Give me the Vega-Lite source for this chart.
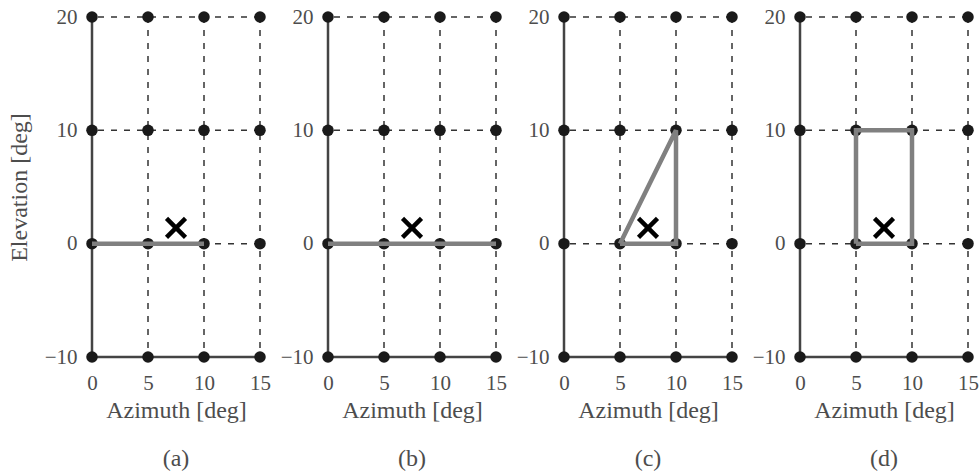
{
  "$schema": "https://vega.github.io/schema/vega-lite/v6.json",
  "padding": {"left": 7, "top": 6, "right": 5, "bottom": 5},
  "background": "white",
  "spacing": 68,
  "bounds": "flush",
  "datasets": {
    "vdash": [{"x": 5}, {"x": 10}, {"x": 15}],
    "hdash": [{"y": 0}, {"y": 10}, {"y": 20}],
    "vsolid": [{"x": 0}],
    "hsolid": [{"y": -10}],
    "grid": [
      {"x": 0, "y": -10}, {"x": 5, "y": -10}, {"x": 10, "y": -10}, {"x": 15, "y": -10},
      {"x": 0, "y": 0}, {"x": 5, "y": 0}, {"x": 10, "y": 0}, {"x": 15, "y": 0},
      {"x": 0, "y": 10}, {"x": 5, "y": 10}, {"x": 10, "y": 10}, {"x": 15, "y": 10},
      {"x": 0, "y": 20}, {"x": 5, "y": 20}, {"x": 10, "y": 20}, {"x": 15, "y": 20}
    ],
    "shapes": [
      {"panel": "a", "i": 0, "x": 0, "y": 0},
      {"panel": "a", "i": 1, "x": 10, "y": 0},
      {"panel": "b", "i": 0, "x": 0, "y": 0},
      {"panel": "b", "i": 1, "x": 15, "y": 0},
      {"panel": "c", "i": 0, "x": 5, "y": 0},
      {"panel": "c", "i": 1, "x": 10, "y": 0},
      {"panel": "c", "i": 2, "x": 10, "y": 10},
      {"panel": "c", "i": 3, "x": 5, "y": 0},
      {"panel": "d", "i": 0, "x": 5, "y": 0},
      {"panel": "d", "i": 1, "x": 10, "y": 0},
      {"panel": "d", "i": 2, "x": 10, "y": 10},
      {"panel": "d", "i": 3, "x": 5, "y": 10},
      {"panel": "d", "i": 4, "x": 5, "y": 0}
    ],
    "target": [{"x": 7.5, "y": 1.4}]
  },
  "hconcat": [
    {
      "width": 168, "height": 340,
      "title": {"text": "(a)", "orient": "bottom", "frame": "group", "offset": 25},
      "layer": [
        {"data": {"name": "vdash"}, "mark": {"type": "rule", "color": "#333333", "strokeWidth": 1.5, "strokeDash": [6, 7]},
         "encoding": {"x": {"field": "x", "type": "quantitative", "scale": {"domain": [0, 15], "nice": false, "zero": false}, "axis": {"values": [0, 5, 10, 15], "title": "Azimuth [deg]"}}}},
        {"data": {"name": "hdash"}, "mark": {"type": "rule", "color": "#333333", "strokeWidth": 1.5, "strokeDash": [6, 7]},
         "encoding": {"y": {"field": "y", "type": "quantitative", "scale": {"domain": [-10, 20], "nice": false, "zero": false}, "axis": {"values": [-10, 0, 10, 20], "title": "Elevation [deg]"}}}},
        {"data": {"name": "vsolid"}, "mark": {"type": "rule", "color": "#444444", "strokeWidth": 2.5},
         "encoding": {"x": {"field": "x", "type": "quantitative", "axis": {"values": [0, 5, 10, 15], "title": "Azimuth [deg]"}}}},
        {"data": {"name": "hsolid"}, "mark": {"type": "rule", "color": "#444444", "strokeWidth": 2.5},
         "encoding": {"y": {"field": "y", "type": "quantitative", "axis": {"values": [-10, 0, 10, 20], "title": "Elevation [deg]"}}}},
        {"data": {"name": "grid"}, "mark": {"type": "circle", "size": 133, "color": "#1a1a1a", "opacity": 1},
         "encoding": {"x": {"field": "x", "type": "quantitative", "axis": {"values": [0, 5, 10, 15], "title": "Azimuth [deg]"}}, "y": {"field": "y", "type": "quantitative", "axis": {"values": [-10, 0, 10, 20], "title": "Elevation [deg]"}}}},
        {"data": {"name": "shapes"}, "transform": [{"filter": "datum.panel == 'a'"}], "mark": {"type": "line", "color": "#808080", "strokeWidth": 4.5, "strokeJoin": "miter"},
         "encoding": {"x": {"field": "x", "type": "quantitative", "axis": {"values": [0, 5, 10, 15], "title": "Azimuth [deg]"}}, "y": {"field": "y", "type": "quantitative", "axis": {"values": [-10, 0, 10, 20], "title": "Elevation [deg]"}}, "order": {"field": "i", "type": "quantitative"}}},
        {"data": {"name": "target"}, "mark": {"type": "point", "shape": "M-1,-1L1,1M-1,1L1,-1", "size": 361, "filled": false, "stroke": "#000000", "strokeWidth": 4.5, "opacity": 1},
         "encoding": {"x": {"field": "x", "type": "quantitative", "axis": {"values": [0, 5, 10, 15], "title": "Azimuth [deg]"}}, "y": {"field": "y", "type": "quantitative", "axis": {"values": [-10, 0, 10, 20], "title": "Elevation [deg]"}}}}
      ]
    },
    {
      "width": 168, "height": 340,
      "title": {"text": "(b)", "orient": "bottom", "frame": "group", "offset": 25},
      "layer": [
        {"data": {"name": "vdash"}, "mark": {"type": "rule", "color": "#333333", "strokeWidth": 1.5, "strokeDash": [6, 7]},
         "encoding": {"x": {"field": "x", "type": "quantitative", "scale": {"domain": [0, 15], "nice": false, "zero": false}, "axis": {"values": [0, 5, 10, 15], "title": "Azimuth [deg]"}}}},
        {"data": {"name": "hdash"}, "mark": {"type": "rule", "color": "#333333", "strokeWidth": 1.5, "strokeDash": [6, 7]},
         "encoding": {"y": {"field": "y", "type": "quantitative", "scale": {"domain": [-10, 20], "nice": false, "zero": false}, "axis": {"values": [-10, 0, 10, 20], "title": null}}}},
        {"data": {"name": "vsolid"}, "mark": {"type": "rule", "color": "#444444", "strokeWidth": 2.5},
         "encoding": {"x": {"field": "x", "type": "quantitative", "axis": {"values": [0, 5, 10, 15], "title": "Azimuth [deg]"}}}},
        {"data": {"name": "hsolid"}, "mark": {"type": "rule", "color": "#444444", "strokeWidth": 2.5},
         "encoding": {"y": {"field": "y", "type": "quantitative", "axis": {"values": [-10, 0, 10, 20], "title": null}}}},
        {"data": {"name": "grid"}, "mark": {"type": "circle", "size": 133, "color": "#1a1a1a", "opacity": 1},
         "encoding": {"x": {"field": "x", "type": "quantitative", "axis": {"values": [0, 5, 10, 15], "title": "Azimuth [deg]"}}, "y": {"field": "y", "type": "quantitative", "axis": {"values": [-10, 0, 10, 20], "title": null}}}},
        {"data": {"name": "shapes"}, "transform": [{"filter": "datum.panel == 'b'"}], "mark": {"type": "line", "color": "#808080", "strokeWidth": 4.5, "strokeJoin": "miter"},
         "encoding": {"x": {"field": "x", "type": "quantitative", "axis": {"values": [0, 5, 10, 15], "title": "Azimuth [deg]"}}, "y": {"field": "y", "type": "quantitative", "axis": {"values": [-10, 0, 10, 20], "title": null}}, "order": {"field": "i", "type": "quantitative"}}},
        {"data": {"name": "target"}, "mark": {"type": "point", "shape": "M-1,-1L1,1M-1,1L1,-1", "size": 361, "filled": false, "stroke": "#000000", "strokeWidth": 4.5, "opacity": 1},
         "encoding": {"x": {"field": "x", "type": "quantitative", "axis": {"values": [0, 5, 10, 15], "title": "Azimuth [deg]"}}, "y": {"field": "y", "type": "quantitative", "axis": {"values": [-10, 0, 10, 20], "title": null}}}}
      ]
    },
    {
      "width": 168, "height": 340,
      "title": {"text": "(c)", "orient": "bottom", "frame": "group", "offset": 25},
      "layer": [
        {"data": {"name": "vdash"}, "mark": {"type": "rule", "color": "#333333", "strokeWidth": 1.5, "strokeDash": [6, 7]},
         "encoding": {"x": {"field": "x", "type": "quantitative", "scale": {"domain": [0, 15], "nice": false, "zero": false}, "axis": {"values": [0, 5, 10, 15], "title": "Azimuth [deg]"}}}},
        {"data": {"name": "hdash"}, "mark": {"type": "rule", "color": "#333333", "strokeWidth": 1.5, "strokeDash": [6, 7]},
         "encoding": {"y": {"field": "y", "type": "quantitative", "scale": {"domain": [-10, 20], "nice": false, "zero": false}, "axis": {"values": [-10, 0, 10, 20], "title": null}}}},
        {"data": {"name": "vsolid"}, "mark": {"type": "rule", "color": "#444444", "strokeWidth": 2.5},
         "encoding": {"x": {"field": "x", "type": "quantitative", "axis": {"values": [0, 5, 10, 15], "title": "Azimuth [deg]"}}}},
        {"data": {"name": "hsolid"}, "mark": {"type": "rule", "color": "#444444", "strokeWidth": 2.5},
         "encoding": {"y": {"field": "y", "type": "quantitative", "axis": {"values": [-10, 0, 10, 20], "title": null}}}},
        {"data": {"name": "grid"}, "mark": {"type": "circle", "size": 133, "color": "#1a1a1a", "opacity": 1},
         "encoding": {"x": {"field": "x", "type": "quantitative", "axis": {"values": [0, 5, 10, 15], "title": "Azimuth [deg]"}}, "y": {"field": "y", "type": "quantitative", "axis": {"values": [-10, 0, 10, 20], "title": null}}}},
        {"data": {"name": "shapes"}, "transform": [{"filter": "datum.panel == 'c'"}], "mark": {"type": "line", "color": "#808080", "strokeWidth": 4.5, "strokeJoin": "miter"},
         "encoding": {"x": {"field": "x", "type": "quantitative", "axis": {"values": [0, 5, 10, 15], "title": "Azimuth [deg]"}}, "y": {"field": "y", "type": "quantitative", "axis": {"values": [-10, 0, 10, 20], "title": null}}, "order": {"field": "i", "type": "quantitative"}}},
        {"data": {"name": "target"}, "mark": {"type": "point", "shape": "M-1,-1L1,1M-1,1L1,-1", "size": 361, "filled": false, "stroke": "#000000", "strokeWidth": 4.5, "opacity": 1},
         "encoding": {"x": {"field": "x", "type": "quantitative", "axis": {"values": [0, 5, 10, 15], "title": "Azimuth [deg]"}}, "y": {"field": "y", "type": "quantitative", "axis": {"values": [-10, 0, 10, 20], "title": null}}}}
      ]
    },
    {
      "width": 168, "height": 340,
      "title": {"text": "(d)", "orient": "bottom", "frame": "group", "offset": 25},
      "layer": [
        {"data": {"name": "vdash"}, "mark": {"type": "rule", "color": "#333333", "strokeWidth": 1.5, "strokeDash": [6, 7]},
         "encoding": {"x": {"field": "x", "type": "quantitative", "scale": {"domain": [0, 15], "nice": false, "zero": false}, "axis": {"values": [0, 5, 10, 15], "title": "Azimuth [deg]"}}}},
        {"data": {"name": "hdash"}, "mark": {"type": "rule", "color": "#333333", "strokeWidth": 1.5, "strokeDash": [6, 7]},
         "encoding": {"y": {"field": "y", "type": "quantitative", "scale": {"domain": [-10, 20], "nice": false, "zero": false}, "axis": {"values": [-10, 0, 10, 20], "title": null}}}},
        {"data": {"name": "vsolid"}, "mark": {"type": "rule", "color": "#444444", "strokeWidth": 2.5},
         "encoding": {"x": {"field": "x", "type": "quantitative", "axis": {"values": [0, 5, 10, 15], "title": "Azimuth [deg]"}}}},
        {"data": {"name": "hsolid"}, "mark": {"type": "rule", "color": "#444444", "strokeWidth": 2.5},
         "encoding": {"y": {"field": "y", "type": "quantitative", "axis": {"values": [-10, 0, 10, 20], "title": null}}}},
        {"data": {"name": "grid"}, "mark": {"type": "circle", "size": 133, "color": "#1a1a1a", "opacity": 1},
         "encoding": {"x": {"field": "x", "type": "quantitative", "axis": {"values": [0, 5, 10, 15], "title": "Azimuth [deg]"}}, "y": {"field": "y", "type": "quantitative", "axis": {"values": [-10, 0, 10, 20], "title": null}}}},
        {"data": {"name": "shapes"}, "transform": [{"filter": "datum.panel == 'd'"}], "mark": {"type": "line", "color": "#808080", "strokeWidth": 4.5, "strokeJoin": "miter"},
         "encoding": {"x": {"field": "x", "type": "quantitative", "axis": {"values": [0, 5, 10, 15], "title": "Azimuth [deg]"}}, "y": {"field": "y", "type": "quantitative", "axis": {"values": [-10, 0, 10, 20], "title": null}}, "order": {"field": "i", "type": "quantitative"}}},
        {"data": {"name": "target"}, "mark": {"type": "point", "shape": "M-1,-1L1,1M-1,1L1,-1", "size": 361, "filled": false, "stroke": "#000000", "strokeWidth": 4.5, "opacity": 1},
         "encoding": {"x": {"field": "x", "type": "quantitative", "axis": {"values": [0, 5, 10, 15], "title": "Azimuth [deg]"}}, "y": {"field": "y", "type": "quantitative", "axis": {"values": [-10, 0, 10, 20], "title": null}}}}
      ]
    }
  ],
  "config": {
    "view": {"stroke": null},
    "font": "Liberation Serif, Times New Roman, serif",
    "axis": {
      "domain": false, "ticks": false, "grid": false,
      "labelFont": "Liberation Serif, Times New Roman, serif", "labelFontSize": 21, "labelColor": "#4d4d4d",
      "labelPadding": 15, "labelFlush": false, "labelOverlap": false,
      "titleFont": "Liberation Serif, Times New Roman, serif", "titleFontSize": 24, "titleFontWeight": "normal", "titleColor": "#4d4d4d"
    },
    "axisX": {"titlePadding": 5},
    "axisY": {"titlePadding": 13},
    "title": {"font": "Liberation Serif, Times New Roman, serif", "fontSize": 24, "fontWeight": "normal", "color": "#4d4d4d"}
  }
}
